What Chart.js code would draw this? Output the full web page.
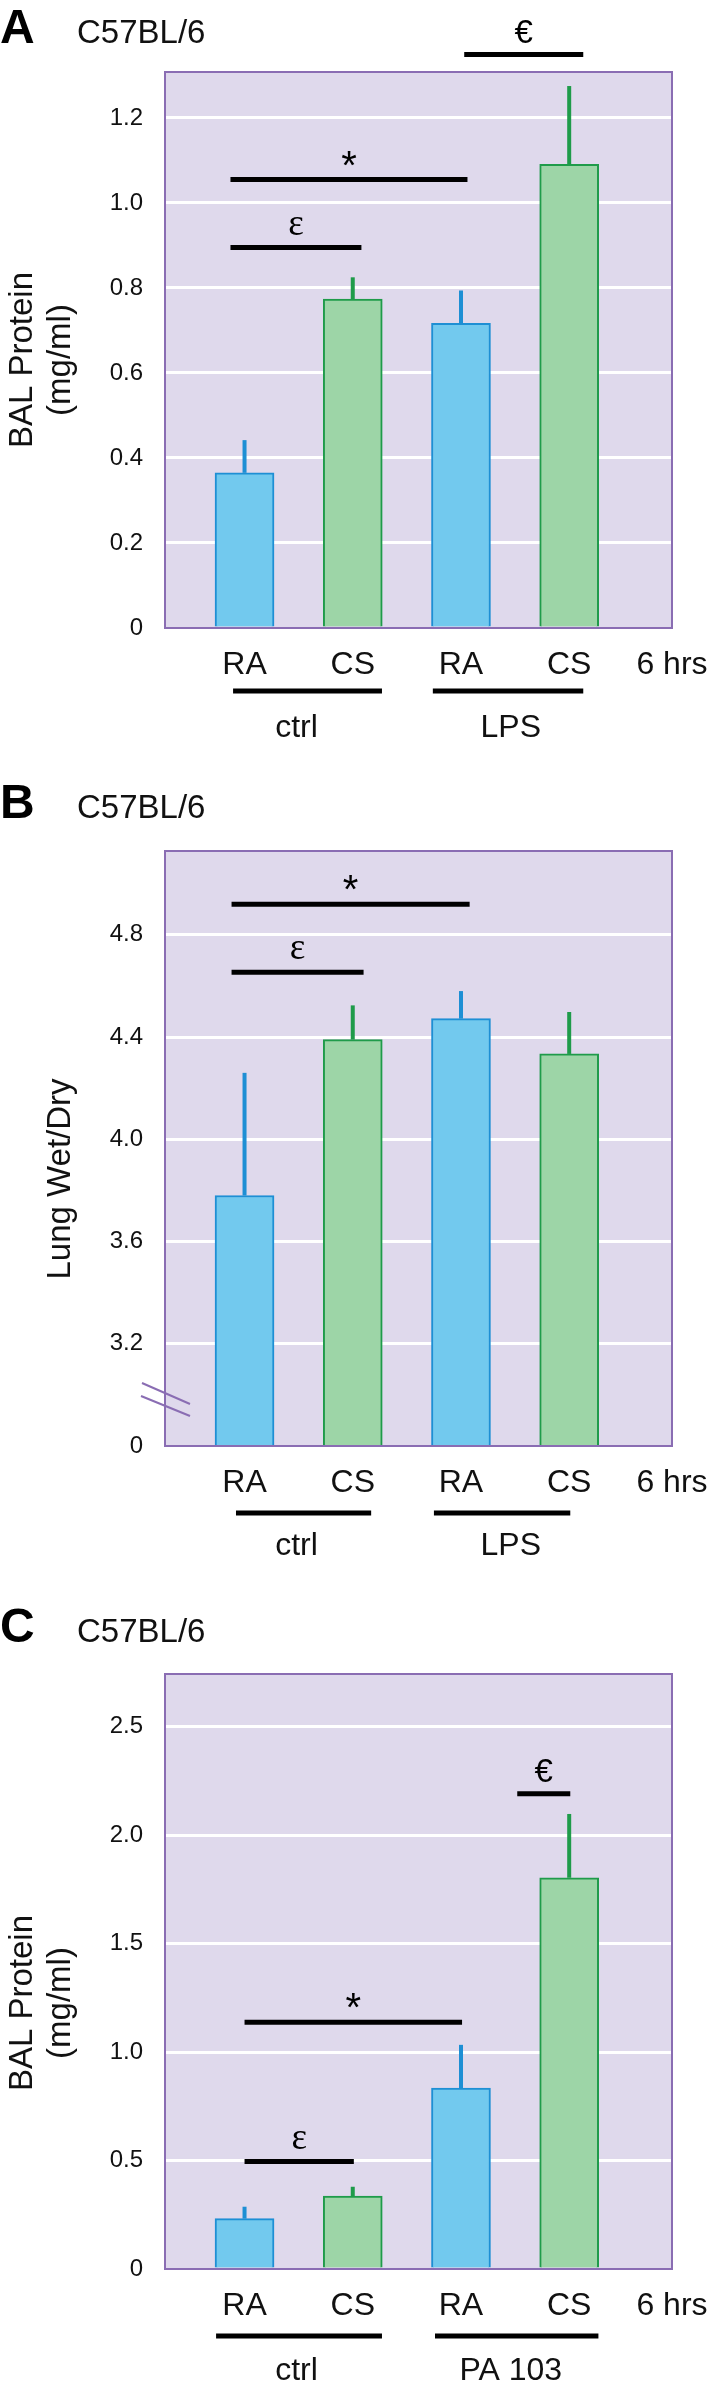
<!DOCTYPE html>
<html>
<head>
<meta charset="utf-8">
<title>C57BL/6 BAL protein and lung wet/dry</title>
<script src="https://cdn.jsdelivr.net/npm/chart.js@4.4.1/dist/chart.umd.min.js"></script>
<style>
  html, body { margin: 0; padding: 0; background: #fff; }
  body { width: 710px; height: 2389px; position: relative; overflow: hidden; }
  canvas { position: absolute; left: 0; display: block; }
</style>
</head>
<body>
<canvas id="chartA" width="710" height="760" style="top:0"></canvas>
<canvas id="chartB" width="710" height="820" style="top:760px"></canvas>
<canvas id="chartC" width="710" height="809" style="top:1580px"></canvas>

<script>
// ---- data ----
const conditions = ["RA", "CS", "RA", "CS"];
const timeLabel = "6 hrs";
const strain = "C57BL/6";

// A: BAL protein, LPS
const lpsGroups = ["ctrl", "LPS"];
const lpsBalMean = [0.365, 0.774, 0.717, 1.091];
const lpsBalSem = [0.077, 0.051, 0.077, 0.184];
const lpsBalTicks = [0, 0.2, 0.4, 0.6, 0.8, 1.0, 1.2];
const lpsBalTickLabels = ["0", "0.2", "0.4", "0.6", "0.8", "1.0", "1.2"];
const lpsBalSig = [
    { mark: "ε", from: -0.13, to: 1.08, at: 0.895 },
    { mark: "*", from: -0.13, to: 2.06, at: 1.055 },
    { mark: "€", from: 2.03, to: 3.13, at: 1.349 }
];

// B: lung wet/dry, LPS (broken axis, bottom labelled 0)
const wetDryMean = [3.78, 4.39, 4.472, 4.334];
const wetDrySem = [0.48, 0.134, 0.108, 0.164];
const wetDryTicks = [2.8, 3.2, 3.6, 4.0, 4.4, 4.8];
const wetDryTickLabels = ["0", "3.2", "3.6", "4.0", "4.4", "4.8"];
const wetDrySig = [
    { mark: "ε", from: -0.12, to: 1.1, at: 4.654 },
    { mark: "*", from: -0.12, to: 2.08, at: 4.92 }
];

// C: BAL protein, PA 103
const paGroups = ["ctrl", "PA 103"];
const paBalMean = [0.232, 0.336, 0.834, 1.803];
const paBalSem = [0.055, 0.043, 0.199, 0.294];
const paBalTicks = [0, 0.5, 1.0, 1.5, 2.0, 2.5];
const paBalTickLabels = ["0", "0.5", "1.0", "1.5", "2.0", "2.5"];
const paBalSig = [
    { mark: "ε", from: 0.0, to: 1.01, at: 0.495 },
    { mark: "*", from: 0.0, to: 2.01, at: 1.137 },
    { mark: "€", from: 2.52, to: 3.01, at: 2.19 }
];

// ---- styling ----
const FONT = "'Liberation Sans', Arial, Helvetica, sans-serif";
const SERIF = "'Liberation Serif', 'Times New Roman', serif";
const BLUE = "#72c9ee";
const BLUE_DARK = "#1e8fd4";
const GREEN = "#9dd5a7";
const GREEN_DARK = "#1f9b4a";
const PLOT_BG = "#dfd9ec";
const FRAME = "#8a6db3";
const X_MIN = -0.735;
const X_MAX = 3.95;

const markStyle = {
    "ε": { font: "37px " + SERIF, dy: -13 },
    "*": { font: "40px " + FONT, dy: -1 },
    "€": { font: "33px " + FONT, dy: -12 }
};

Chart.defaults.font.family = FONT;
Chart.defaults.color = "#111";

function decor(p) {
    return {
        id: "decor" + p.letter,
        beforeDraw(chart) {
            const { ctx, chartArea: a } = chart;
            ctx.save();
            ctx.fillStyle = PLOT_BG;
            ctx.fillRect(a.left, a.top, a.right - a.left, a.bottom - a.top);
            ctx.restore();
        },
        afterDatasetsDraw(chart) {
            // upper error whiskers
            const { ctx } = chart;
            const y = chart.scales.y;
            const ds = chart.data.datasets[0];
            ctx.save();
            ctx.lineWidth = 4;
            chart.getDatasetMeta(0).data.forEach((bar, i) => {
                ctx.strokeStyle = ds.borderColor[i];
                ctx.beginPath();
                ctx.moveTo(bar.x, bar.y);
                ctx.lineTo(bar.x, y.getPixelForValue(p.mean[i] + p.sem[i]));
                ctx.stroke();
            });
            ctx.restore();
        },
        afterDraw(chart) {
            const { ctx, chartArea: a } = chart;
            const x = chart.scales.x, y = chart.scales.y;
            ctx.save();

            ctx.strokeStyle = FRAME;
            ctx.lineWidth = 2;
            ctx.strokeRect(a.left, a.top, a.right - a.left, a.bottom - a.top);

            if (p.axisBreak) {
                ctx.lineWidth = 2;
                ctx.beginPath();
                ctx.moveTo(a.left - 23, a.bottom - 63);
                ctx.lineTo(a.left + 25, a.bottom - 42);
                ctx.moveTo(a.left - 24, a.bottom - 50);
                ctx.lineTo(a.left + 25, a.bottom - 30);
                ctx.stroke();
            }

            // significance bars
            ctx.strokeStyle = "#000";
            ctx.fillStyle = "#000";
            ctx.lineWidth = 5;
            ctx.textAlign = "center";
            ctx.textBaseline = "alphabetic";
            p.sig.forEach(s => {
                const yy = y.getPixelForValue(s.at);
                const x0 = x.getPixelForValue(s.from), x1 = x.getPixelForValue(s.to);
                ctx.beginPath();
                ctx.moveTo(x0, yy);
                ctx.lineTo(x1, yy);
                ctx.stroke();
                ctx.font = markStyle[s.mark].font;
                ctx.fillText(s.mark, (x0 + x1) / 2, yy + markStyle[s.mark].dy);
            });

            // group underlines and names
            ctx.font = "32px " + FONT;
            ctx.fillStyle = "#111";
            p.groups.forEach((g, i) => {
                const span = p.groupSpans[i];
                const ly = a.bottom + p.groupLineDy;
                ctx.beginPath();
                ctx.moveTo(x.getPixelForValue(span[0]), ly);
                ctx.lineTo(x.getPixelForValue(span[1]), ly);
                ctx.stroke();
                ctx.fillText(g, x.getPixelForValue(span[2]), a.bottom + p.groupTextDy);
            });

            // y axis title
            ctx.font = "33px " + FONT;
            ctx.textAlign = "center";
            p.yTitle.forEach((line, i) => {
                ctx.save();
                ctx.translate(p.yTitleX[i], p.yTitleMid);
                ctx.rotate(-Math.PI / 2);
                ctx.fillText(line, 0, 0);
                ctx.restore();
            });

            // panel header
            ctx.textAlign = "left";
            ctx.font = "bold 48px " + FONT;
            ctx.fillStyle = "#000";
            ctx.fillText(p.letter, 0, p.headBase);
            ctx.font = "33px " + FONT;
            ctx.fillStyle = "#111";
            ctx.fillText(strain, 77, p.headBase);

            ctx.restore();
        }
    };
}

function makePanel(id, p) {
    const xLabels = conditions.concat([timeLabel]);
    return new Chart(document.getElementById(id), {
        type: "bar",
        data: {
            datasets: [{
                data: p.mean.map((v, i) => ({ x: i, y: v })),
                backgroundColor: conditions.map(c => c === "RA" ? BLUE : GREEN),
                borderColor: conditions.map(c => c === "RA" ? BLUE_DARK : GREEN_DARK),
                borderWidth: 2,
                barThickness: 59
            }]
        },
        options: {
            responsive: false,
            animation: false,
            events: [],
            layout: { padding: { top: p.top, right: 38, left: 0, bottom: 0 } },
            plugins: { legend: { display: false }, tooltip: { enabled: false } },
            scales: {
                x: {
                    type: "linear",
                    min: X_MIN,
                    max: X_MAX,
                    offset: false,
                    bounds: "data",
                    grid: { display: true, color: "rgba(0,0,0,0)", drawTicks: true, tickLength: 18, offset: false },
                    border: { display: false },
                    ticks: {
                        font: { size: 32 },
                        color: "#111",
                        padding: 0,
                        autoSkip: false,
                        maxRotation: 0,
                        callback: (v, i) => xLabels[i]
                    },
                    afterBuildTicks: s => { s.ticks = [0, 1, 2, 3, X_MAX].map(v => ({ value: v })); },
                    afterFit: s => { s.height = p.xAxisH; }
                },
                y: {
                    type: "linear",
                    min: p.ticks[0],
                    max: p.yMax,
                    grid: {
                        color: c => (c.tick && c.tick.value === p.ticks[0]) ? "rgba(0,0,0,0)" : "#ffffff",
                        lineWidth: 3,
                        drawTicks: false
                    },
                    border: { display: false },
                    ticks: {
                        font: { size: 24 },
                        color: "#111",
                        padding: 22,
                        callback: (v, i) => p.tickLabels[i]
                    },
                    afterBuildTicks: s => { s.ticks = p.ticks.map(v => ({ value: v })); },
                    afterFit: s => { s.width = 165; }
                }
            }
        },
        plugins: [decor(p)]
    });
}

makePanel("chartA", {
    letter: "A", headBase: 43,
    mean: lpsBalMean, sem: lpsBalSem, ticks: lpsBalTicks, tickLabels: lpsBalTickLabels,
    yMax: 1.308, top: 72, xAxisH: 132,
    sig: lpsBalSig, groups: lpsGroups,
    groupSpans: [[-0.106, 1.27, 0.48], [1.74, 3.13, 2.46]],
    groupLineDy: 63, groupTextDy: 109,
    yTitle: ["BAL Protein", "(mg/ml)"], yTitleX: [32, 70], yTitleMid: 360
});

makePanel("chartB", {
    letter: "B", headBase: 58,
    mean: wetDryMean, sem: wetDrySem, ticks: wetDryTicks, tickLabels: wetDryTickLabels,
    yMax: 5.128, top: 91, xAxisH: 134, axisBreak: true,
    sig: wetDrySig, groups: lpsGroups,
    groupSpans: [[-0.079, 1.17, 0.48], [1.75, 3.01, 2.46]],
    groupLineDy: 67, groupTextDy: 109,
    yTitle: ["Lung Wet/Dry"], yTitleX: [70], yTitleMid: 419
});

makePanel("chartC", {
    letter: "C", headBase: 62,
    mean: paBalMean, sem: paBalSem, ticks: paBalTicks, tickLabels: paBalTickLabels,
    yMax: 2.742, top: 94, xAxisH: 120,
    sig: paBalSig, groups: paGroups,
    groupSpans: [[-0.263, 1.27, 0.48], [1.76, 3.27, 2.46]],
    groupLineDy: 67, groupTextDy: 111,
    yTitle: ["BAL Protein", "(mg/ml)"], yTitleX: [32, 70], yTitleMid: 423
});
</script>
</body>
</html>
